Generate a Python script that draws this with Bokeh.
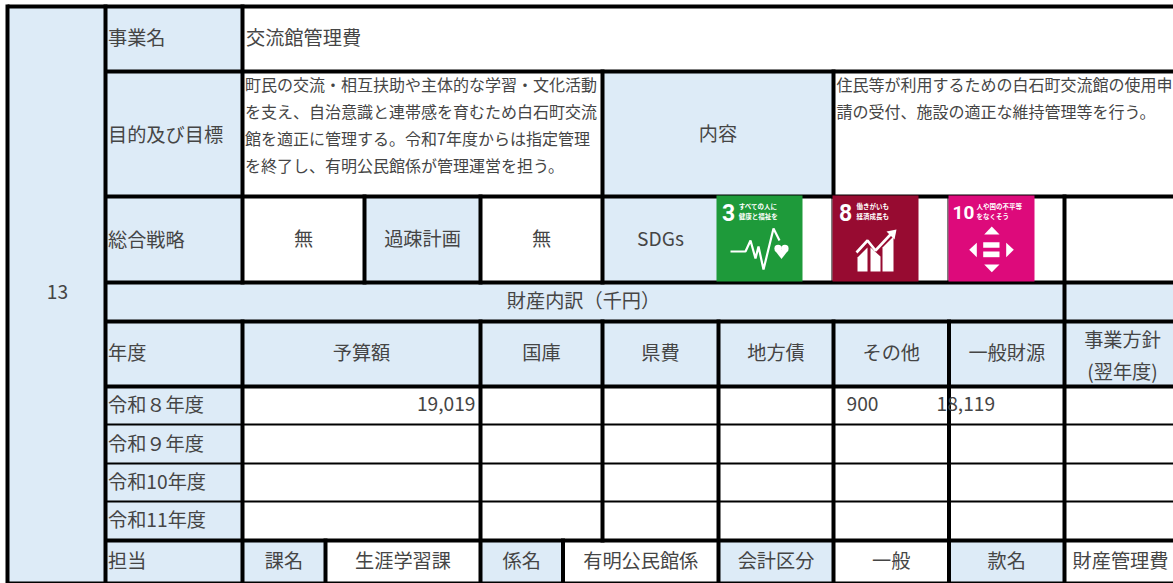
from bokeh.plotting import figure
from bokeh.models import ColumnDataSource, Range1d
from bokeh.core.properties import value
from bokeh.embed import file_html
from bokeh.resources import INLINE

# ---- content ----
row_number = "13"
name_label = "事業名"
name_value = "交流館管理費"
purpose_label = "目的及び目標"
purpose_lines = ["町民の交流・相互扶助や主体的な学習・文化活動",
                 "を支え、自治意識と連帯感を育むため白石町交流",
                 "館を適正に管理する。令和7年度からは指定管理",
                 "を終了し、有明公民館係が管理運営を担う。"]
content_label = "内容"
content_lines = ["住民等が利用するための白石町交流館の使用申",
                 "請の受付、施設の適正な維持管理等を行う。"]
strategy_row = ["総合戦略", "無", "過疎計画", "無", "SDGs"]
breakdown_title = "財産内訳（千円）"
header_row = ["年度", "予算額", "国庫", "県費", "地方債", "その他", "一般財源"]
policy_lines = ["事業方針", "(翌年度)"]
years = ["令和８年度", "令和９年度", "令和10年度", "令和11年度"]
budget = "19,019"
other = "900"
general = "18,119"
staff_row = ["担当", "課名", "生涯学習課", "係名", "有明公民館係", "会計区分", "一般", "款名", "財産管理費"]
sdg_numbers = ["3", "8", "10"]
sdg_titles = [["すべての人に", "健康と福祉を"], ["働きがいも", "経済成長も"], ["人や国の不平等", "をなくそう"]]

# ---- grid layout (page pixels) ----
W, H = 1173, 583
C = [7, 105, 242, 325, 364, 480, 562.5, 602, 718, 833, 948.5, 1064, 1180]
R = [6, 71, 196, 282, 321, 386, 424, 463, 501, 540, 583]
BLUE = "#ddebf7"
INK = "#454545"
FONT = value("Noto Sans CJK JP")
NUMFONT = value("Roboto")

p = figure(width=W, height=H, output_backend="svg", toolbar_location=None,
           x_range=Range1d(0, W), y_range=Range1d(H, 0),
           min_border=0, outline_line_color=None, background_fill_color="white",
           border_fill_color="white", x_axis_type=None, y_axis_type=None,
           styles={"position": "absolute", "left": "0px", "top": "0px"})
p.grid.visible = False

# blue cells: (col0, col1, row0, row1)
blue_cells = [(0, 2, 0, 10), (1, 2, 0, 3), (7, 9, 1, 2), (4, 5, 2, 3), (7, 8, 2, 3),
              (1, 12, 3, 4), (1, 12, 4, 5), (1, 2, 5, 10),
              (2, 3, 9, 10), (5, 6, 9, 10), (8, 9, 9, 10), (10, 11, 9, 10)]
p.quad(left=[C[a] for a, b, c, d in blue_cells], right=[C[b] for a, b, c, d in blue_cells],
       top=[R[c] for a, b, c, d in blue_cells], bottom=[R[d] for a, b, c, d in blue_cells],
       fill_color=BLUE, line_color=None)

# vertical rules: (col, row0, row1)
v_rules = [(0, 0, 10), (1, 0, 10), (2, 0, 3), (2, 4, 10), (4, 2, 3), (5, 2, 3), (5, 4, 10),
           (3, 9, 10), (6, 9, 10), (7, 1, 3), (7, 4, 9), (8, 4, 10), (9, 1, 2), (9, 4, 10),
           (10, 4, 10), (11, 2, 10)]
VW = 4
p.quad(left=[C[c] - VW / 2 for c, a, b in v_rules], right=[C[c] + VW / 2 for c, a, b in v_rules],
       top=[R[a] - 2 for c, a, b in v_rules], bottom=[R[b] + 2 for c, a, b in v_rules],
       fill_color="black", line_color=None)

# horizontal rules: (row, col0, col1, width)
h_rules = [(0, 0, 12, 4), (1, 1, 12, 4), (2, 1, 12, 4), (3, 1, 12, 4), (4, 1, 12, 4), (5, 1, 12, 4),
           (6, 1, 12, 2), (7, 1, 12, 2), (8, 1, 12, 2), (9, 1, 12, 4), (10, 0, 12, 4)]
p.quad(left=[C[a] for r, a, b, w in h_rules], right=[C[b] for r, a, b, w in h_rules],
       top=[R[r] - w / 2 for r, a, b, w in h_rules], bottom=[R[r] + w / 2 for r, a, b, w in h_rules],
       fill_color="black", line_color=None)


def label(xs, ys, texts, size, align="left", color=INK, style="normal", font=FONT):
    src = ColumnDataSource(dict(x=xs, y=ys, t=texts))
    p.text("x", "y", text="t", source=src, text_font=font, text_font_size=size, text_color=color,
           text_align=align, text_baseline="middle", text_font_style=style)


def mid(a, b):
    return (a + b) / 2


SIZE = "19.2px"
UP = 1.5
# left-aligned labels in the label column
label([107.5] * 2, [38 - UP, 135 - UP], [name_label, purpose_label], SIZE)
label([107.5], [239.5 - UP], [strategy_row[0]], SIZE)
label([107.5], [353 - UP], [header_row[0]], SIZE)
label([107.5] * 4, [y - UP for y in (404.5, 444, 482, 520)], years, SIZE)
label([107.5], [561 - UP], [staff_row[0]], SIZE)
label([245.5], [38 - UP], [name_value], SIZE)
label([57], [293 - UP], [row_number], SIZE, "center")
label([244.5] * 4, [y - UP for y in (85, 112, 139, 166)], purpose_lines, "16px")
label([836] * 2, [y - UP for y in (84.5, 111.5)], content_lines, "16px")
# centred labels
label([mid(C[7], C[9])], [134 - UP], [content_label], SIZE, "center")
label([mid(C[2], C[4]), mid(C[4], C[5]), mid(C[5], C[7]), mid(C[7], C[8])], [239 - UP] * 4,
      strategy_row[1:], SIZE, "center")
label([583], [301 - UP], [breakdown_title], SIZE, "center")
label([mid(C[2], C[5]), mid(C[5], C[7]), mid(C[7], C[8]), mid(C[8], C[9]), mid(C[9], C[10]), mid(C[10], C[11])],
      [353 - UP] * 6, header_row[1:], SIZE, "center")
label([1122] * 2, [339.5 - UP, 371.5 - UP], policy_lines, SIZE, "center")
staff_centers = [mid(C[2], C[3]), mid(C[3], C[5]), mid(C[5], C[6]), mid(C[6], C[8]), mid(C[8], C[9]),
                 mid(C[9], C[10]), mid(C[10], C[11])]
label(staff_centers, [561 - UP] * 7, staff_row[1:8], SIZE, "center")
label([1120], [561 - UP], [staff_row[8]], SIZE, "center")
# numbers
label([475], [404.5 - UP], [budget], SIZE, "right")
label([846, 936], [404.5 - UP, 404.5 - UP], [other, general], SIZE)

# ---- SDG icons: local coords are 0..86 across each tile ----
TILE_X = [716, 832, 948]
TILE_Y = 195
TILE_W = 86
TILE_H = 86
TILE_COL = ["#1e9a3a", "#970b31", "#dd0a7b"]
p.quad(left=[x - 1 for x in TILE_X[1:]], right=[x for x in TILE_X[1:]], top=[TILE_Y] * 2, bottom=[TILE_Y + TILE_H] * 2,
       fill_color="black", line_color=None)
p.quad(left=TILE_X, right=[x + TILE_W for x in TILE_X], top=[TILE_Y] * 3, bottom=[TILE_Y + TILE_H] * 3,
       fill_color=TILE_COL, line_color=None)
num_dx = [5.5, 6.5, 4]
num_size = ["23px", "23px", "19px"]
title_dx = [22.3, 24, 28]
for i in range(3):
    x = TILE_X[i]
    label([x + num_dx[i]], [TILE_Y + 17], [sdg_numbers[i]], num_size[i], color="white", style="bold", font=NUMFONT)
    label([x + title_dx[i]] * 2, [TILE_Y + 10.5, TILE_Y + 20.5], sdg_titles[i], "6.5px", color="white", style="bold")

gx, rx, mx = TILE_X
ty = TILE_Y
# goal 3: pulse and heart
p.line([gx + a for a in (14, 29, 34, 39, 42, 47, 57, 63)], [ty + a for a in (56, 56, 45, 63, 51, 74, 33, 45)],
       line_color="white", line_width=2.2)
p.circle([gx + 61.6, gx + 68.4], [ty + 53, ty + 53], radius=3.7, fill_color="white", line_color=None)
p.patch([gx + a for a in (58, 72, 65)], [ty + a for a in (54.5, 54.5, 63.5)], fill_color="white", line_color=None)
# goal 8: bars and arrow
for xs, ys in [((25, 35, 35, 25), (76, 76, 52, 62)), ((38, 48, 48, 38), (76, 76, 61, 52)),
               ((50, 61, 61, 50), (76, 76, 41, 52))]:
    p.patch([rx + a for a in xs], [ty + a for a in ys], fill_color="white", line_color=None)
p.line([rx + a for a in (24, 35, 43, 58)], [ty + a for a in (57, 45, 55, 39)], line_color="white", line_width=2.6)
p.patch([rx + a for a in (54, 64, 62)], [ty + a for a in (36, 34, 44)], fill_color="white", line_color=None)
# goal 10: four triangles and bars
for tri in [((43.3, 35.7, 51), (31, 39, 39)), ((35.7, 51, 43.3), (69, 69, 76.7)),
            ((28.3, 28.3, 20.7), (47.3, 61.7, 54.3)), ((57.7, 57.7, 65.3), (47.3, 61.7, 54.3))]:
    p.patch([mx + a for a in tri[0]], [ty + a for a in tri[1]], fill_color="white", line_color=None)
p.quad(left=[mx + 34.7] * 2, right=[mx + 51] * 2, top=[ty + 46.7, ty + 56], bottom=[ty + 52.3, ty + 61.7],
       fill_color="white", line_color=None)

open("out.html", "w").write(file_html(p, INLINE))
